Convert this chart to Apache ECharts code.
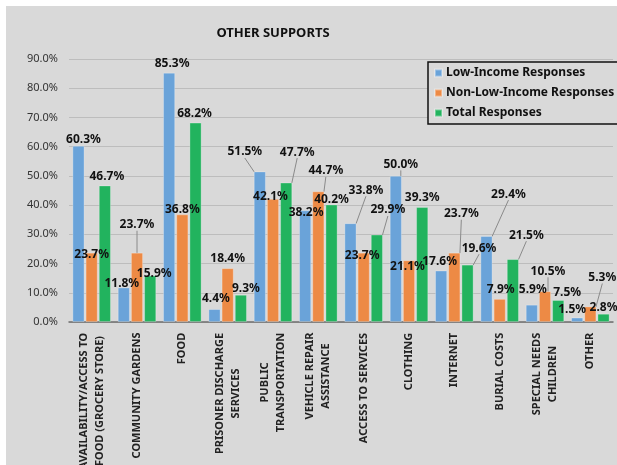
<!DOCTYPE html>
<html><head><meta charset="utf-8">
<script src="https://cdn.jsdelivr.net/npm/echarts@6/dist/echarts.min.js"></script>
<style>
html,body{margin:0;padding:0;background:#fff;overflow:hidden;}
#wrap{position:absolute;left:0;top:0;width:617px;height:465px;background:#fff;}
#chart{position:absolute;left:6px;top:6px;width:611px;height:459px;background:#d9d9d9;}
</style></head>
<body><div id="wrap"><div id="chart"></div></div>
<script>
// ---- data ----
const categories = [
  "AVAILABILITY/ACCESS TO\nFOOD (GROCERY STORE)",
  "COMMUNITY GARDENS",
  "FOOD",
  "PRISONER DISCHARGE\nSERVICES",
  "PUBLIC\nTRANSPORTATION",
  "VEHICLE REPAIR\nASSISTANCE",
  "ACCESS TO SERVICES",
  "CLOTHING",
  "INTERNET",
  "BURIAL COSTS",
  "SPECIAL NEEDS\nCHILDREN",
  "OTHER"
];
const seriesNames = ["Low-Income Responses", "Non-Low-Income Responses", "Total Responses"];
const lowIncome    = [60.3, 11.8, 85.3, 4.4, 51.5, 38.2, 33.8, 50.0, 17.6, 29.4, 5.9, 1.5];
const nonLowIncome = [23.7, 23.7, 36.8, 18.4, 42.1, 44.7, 23.7, 21.1, 23.7, 7.9, 10.5, 5.3];
const total        = [46.7, 15.9, 68.2, 9.3, 47.7, 40.2, 29.9, 39.3, 19.6, 21.5, 7.5, 2.8];
const yTicks = {min: 0, max: 90, interval: 10};

// ---- label styling (nudges relative to default "top" label, and leader-line flags) ----
const labelNudges = [
  [[5,2],[-2,4],[3,-1],[1.5,-2.5],[-15,-11.5],[1,10],[15.5,-25],[5,-3.5],[-1.5,-1],[22,-34],[1,-7],[-5,0]],
  [[0,10],[0,-20],[0,3.5],[0,-1.5],[-2.5,6],[7.5,-12.5],[-1.5,11],[-1.5,14.5],[7,-31],[1,-1],[3,-12],[12,-21]],
  [[2,-1],[4,6],[-1,-1],[5,2],[11,-22.5],[0,3.5],[11,-16.6],[0,-1.5],[11.5,-8.5],[13.5,-16],[9,0],[0,2]]
];
const leaderFlags = [
  [0,0,0,0,1,0,1,1,0,1,0,0],
  [0,1,0,0,0,1,0,0,1,0,1,1],
  [0,0,0,0,1,0,1,0,1,1,0,0]
];
const colors = ["#6aa3d9", "#ed8a45", "#22b35e"];
const FONT = "'Noto Sans', 'DejaVu Sans', sans-serif";

// measure multi-line category labels so lines can be centred within the block
const cv = document.createElement('canvas').getContext('2d');
cv.font = "bold 11px 'Noto Sans'";
const rich = {};
categories.forEach((c, i) => {
  const w = Math.max(...c.split('\n').map(s => cv.measureText(s).width));
  rich['c' + i] = {width: Math.ceil(w) + 1, align: 'center', fontFamily: FONT, fontWeight: 'bold', fontSize: 11, color: '#222', lineHeight: 16};
});

const chart = echarts.init(document.getElementById('chart'), null, {renderer: 'canvas'});
const allData = [lowIncome, nonLowIncome, total];

const series = allData.map((vals, s) => ({
  name: seriesNames[s],
  type: 'bar',
  barWidth: 12,
  barGap: '10%',
  itemStyle: {color: colors[s], borderColor: 'rgba(255,255,255,0.35)', borderWidth: 0.8},
  data: vals.map((v, i) => ({
    value: v,
    labelLine: {show: !!leaderFlags[s][i]}
  })),
  label: {
    show: true,
    position: 'top',
    distance: 2,
    formatter: p => p.value.toFixed(1) + '%',
    fontFamily: FONT,
    fontWeight: 'bold',
    fontSize: 12,
    color: '#111'
  },
  labelLine: {show: false, lineStyle: {color: '#8a8a8a', width: 1}},
  labelLayout: p => ({dx: labelNudges[s][p.dataIndex][0], dy: labelNudges[s][p.dataIndex][1]})
}));

chart.setOption({
  animation: false,
  backgroundColor: '#d9d9d9',
  title: {
    text: 'OTHER SUPPORTS',
    left: 262, top: 16, textAlign: 'center',
    textStyle: {fontFamily: FONT, fontWeight: 'bold', fontSize: 13, color: '#111'}
  },
  legend: {
    orient: 'vertical',
    left: 422, top: 56,
    padding: [5, 5, 5, 6],
    itemWidth: 7, itemHeight: 7, itemGap: 8,
    icon: 'rect',
    borderColor: '#111', borderWidth: 1.5,
    backgroundColor: '#d9d9d9',
    textStyle: {fontFamily: FONT, fontWeight: 'bold', fontSize: 12, color: '#111', padding: [0,0,0,-1]},
    data: seriesNames
  },
  grid: {left: 63, right: 4, top: 53, bottom: 143, containLabel: false, outerBoundsMode: 'none'},
  xAxis: {
    type: 'category',
    data: categories,
    axisTick: {show: false},
    axisLine: {lineStyle: {color: '#6e6e6e', width: 1.5}},
    axisLabel: {
      interval: 0,
      rotate: 90,
      margin: 10,
      formatter: (v, i) => v.split('\n').map(l => '{c' + i + '|' + l + '}').join('\n'),
      rich: rich
    }
  },
  yAxis: {
    type: 'value',
    min: yTicks.min, max: yTicks.max, interval: yTicks.interval,
    axisLine: {show: false},
    axisTick: {show: false},
    splitLine: {lineStyle: {color: '#bdbdbd', width: 1}},
    axisLabel: {
      formatter: v => v.toFixed(1) + '%',
      fontFamily: FONT, fontSize: 11, color: '#333', margin: 11
    }
  },
  series: series
});
</script>
</body></html>
